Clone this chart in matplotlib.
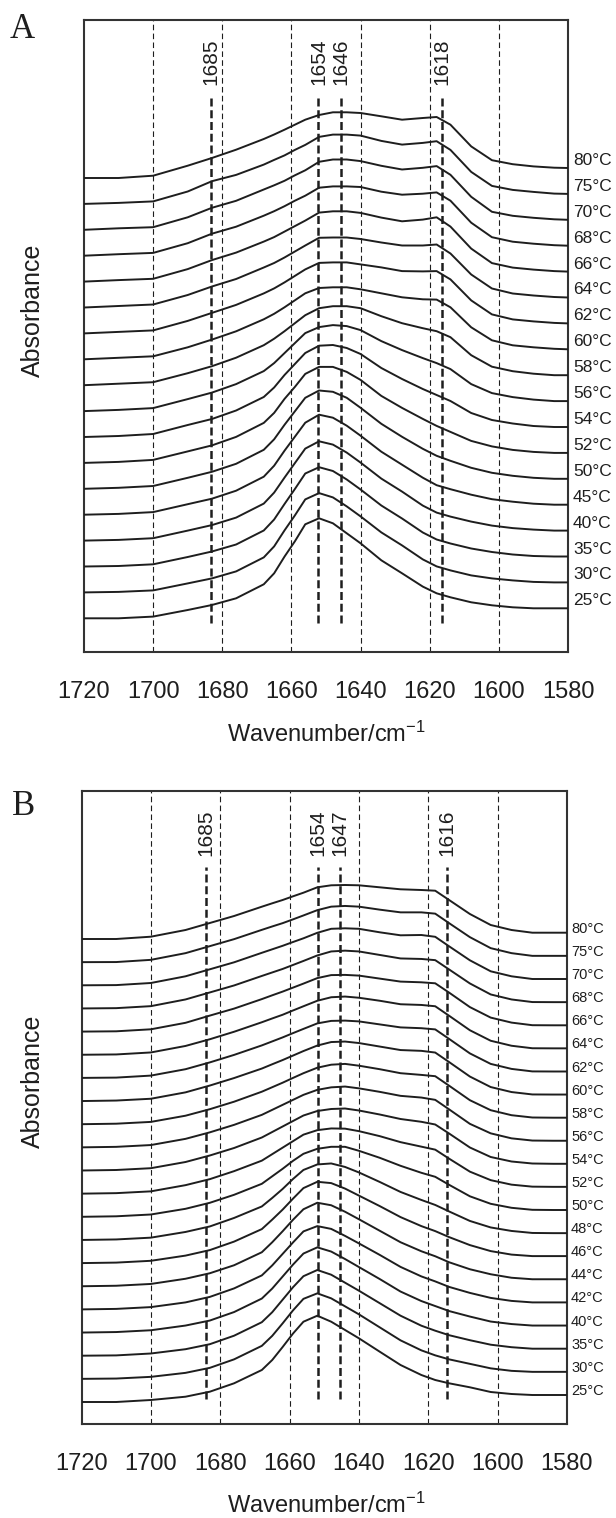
import matplotlib
matplotlib.use("Agg")
import matplotlib.pyplot as plt

plt.rcParams["font.family"] = ["Liberation Sans", "DejaVu Sans"]
plt.rcParams["mathtext.fontset"] = "custom"
plt.rcParams["mathtext.rm"] = "Liberation Sans"
plt.rcParams["mathtext.default"] = "regular"

# wavenumber grid the curves were read at (cm-1)
wavenumbers = [1720, 1710, 1700, 1690, 1683, 1676, 1668, 1665, 1662, 1659, 1656, 1652, 1648, 1644,
               1640, 1634, 1628, 1622, 1618, 1614, 1608, 1602, 1596, 1590, 1584, 1580]
xticks = [1720, 1700, 1680, 1660, 1640, 1620, 1600, 1580]
grid_lines = [1700, 1680, 1660, 1640, 1620, 1600]

# panel A, absorbance (a.u., stacking offset removed) per temperature
temps_a = [25, 30, 35, 40, 45, 50, 52, 54, 56, 58, 60, 62, 64, 66, 68, 70, 75, 80]
spectra_a = {
    25: [0, 0, 1.7, 8.3, 13.3, 20, 34, 45, 61.7, 77, 94, 100, 95, 85, 75, 58, 45, 31.7, 25, 21, 16, 13, 11, 10, 10, 10],
    30: [0, 0.5, 2, 9, 14, 21, 35, 46, 62, 77, 93, 99.3, 95, 86, 76, 60, 47, 33, 26, 22, 17, 14, 12, 10.5, 10, 10],
    35: [0, 0.5, 2.2, 9.5, 15, 22, 36, 47, 62.5, 77.5, 93, 99.3, 95.5, 87, 77, 61, 48, 34, 27, 23, 18, 14.5, 12, 10.5, 10, 10],
    40: [0, 0.7, 2.4, 10, 15.5, 23, 37, 48, 63, 77.5, 92, 99.3, 96, 88, 78, 62, 49, 35, 28, 24, 19, 15, 12.5, 11, 10, 10],
    45: [0, 0.8, 2.6, 10.5, 16, 24, 38, 49, 64, 78, 92, 100, 97, 89, 79, 63, 50, 37, 29.5, 25.5, 20, 15.5, 13, 11, 10, 10],
    50: [0, 1, 2.8, 11, 17, 25, 39, 49.5, 64, 77.5, 91, 98.3, 97, 91, 81, 65, 52, 40, 33, 28, 21, 16, 13, 11, 10, 10],
    52: [0, 1, 3, 11.5, 17.5, 26, 40, 50, 64, 76, 89, 96, 96, 91, 83, 67, 55, 44, 37, 31, 22, 16.5, 13, 11, 10, 10],
    54: [0, 1, 3, 12, 18, 26.5, 40, 49.5, 62, 73, 84, 91.3, 92, 89, 83, 69, 58, 48, 42, 36, 24, 17, 13.5, 11, 10, 10],
    56: [0, 1.2, 3, 12, 18.5, 27, 40, 48, 58, 68, 78, 84, 86, 85, 81, 70, 61, 53, 48, 42, 27, 18, 14, 11.5, 10, 10],
    58: [0, 1.5, 3, 12, 19, 27.5, 40, 46.5, 54, 62, 70, 77, 79, 79, 77, 69, 62, 57, 54, 48, 30, 18.5, 14, 11.5, 10, 10],
    60: [0, 1.5, 3, 12, 19.7, 28, 40, 45.5, 52, 59, 66, 71.3, 72, 72, 70, 66, 62, 60, 59.7, 52, 32, 19, 14, 12, 10.5, 10],
    62: [0, 1.5, 3, 12.5, 20.5, 28.5, 40, 45, 51, 57.5, 64, 70.5, 71, 71, 69, 66, 62.3, 62, 62.3, 54, 33, 19, 14, 12, 10.5, 10],
    64: [0, 1.5, 3, 12.5, 21, 28.5, 40, 44.5, 50, 56, 62, 69.7, 70, 70, 68.5, 65, 62, 62, 63, 54, 33, 19, 14, 12, 10.5, 10],
    66: [0, 1.5, 2.8, 12.5, 21.5, 29, 40, 44.5, 50, 55.5, 61, 69, 70.3, 70.3, 68.7, 64, 60.3, 62, 64.3, 55, 33, 18.5, 14, 12, 10.5, 10],
    68: [0, 1.5, 2.8, 12.5, 22, 29, 40, 44.5, 49.5, 55, 60, 68, 69.3, 69.3, 68.7, 64, 61, 62, 63.3, 55, 33, 18.5, 14, 12, 10.5, 10],
    70: [0, 1.5, 2.6, 12.5, 22, 29, 40.3, 44.5, 49, 54.5, 59.5, 68, 70.3, 70.3, 68.7, 64, 60.3, 62, 63.7, 55, 33, 18, 14, 12, 10.5, 10],
    75: [0, 1, 2.5, 12.4, 22.7, 29, 39.3, 44, 48.5, 54, 59, 67, 69.3, 69.3, 68.3, 63, 59.3, 61, 62.7, 54, 32, 18, 14, 12, 10.3, 10],
    80: [0, 0, 2.3, 12.3, 20, 28.3, 39, 43.5, 48.3, 53.3, 58.3, 63, 65.7, 65.7, 65, 61.7, 58.3, 60, 61, 53.3, 31.6, 17.8, 13.8, 11.6, 10.3, 10],
}
bands_a = [1683.3, 1652.2, 1645.7, 1616.4]
band_labels_a = ["1685", "1654", "1646", "1618"]

# panel B
temps_b = [25, 30, 35, 40, 42, 44, 46, 48, 50, 52, 54, 56, 58, 60, 62, 64, 66, 68, 70, 75, 80]
spectra_b = {
    25: [0, 0, 2, 5.3, 10.3, 18.7, 32, 42, 55, 68.5, 80.3, 86.3, 80.3, 72, 63.7, 50.3, 37, 27, 22, 18.7, 14.7, 10, 8, 7, 7, 7],
    30: [0, 0.3, 2, 6, 11, 19.5, 33, 43, 55.5, 68.5, 80, 85.5, 80.5, 72.5, 64.5, 51.5, 38.5, 28.5, 23.5, 19.5, 15, 10.5, 8, 7, 7, 7],
    35: [0, 0.3, 2.2, 6.5, 11.5, 20, 33.5, 43.5, 56, 68.5, 79.5, 85.7, 81, 73, 65, 52.5, 40, 30, 25, 20.5, 15.5, 11, 8.5, 7, 7, 7],
    40: [0, 0.5, 2.3, 7, 12, 20.5, 34, 44, 56, 68, 79, 85.2, 81, 73.5, 65.5, 53.5, 41, 31.5, 26.5, 21.5, 16, 11, 8.5, 7, 7, 7],
    42: [0, 0.5, 2.3, 7, 12.5, 21, 34, 44, 55.5, 67, 78, 83.3, 80.5, 73.5, 66, 54.5, 42.5, 33, 28, 22.5, 16.5, 11.5, 8.5, 7, 7, 7],
    44: [0, 0.5, 2.3, 7.5, 13, 21, 34, 44, 55, 66.5, 77, 83.5, 81, 74.5, 67, 55.5, 44, 35, 30, 24, 17, 12, 8.5, 7, 7, 7],
    46: [0, 0.5, 2.3, 7.5, 13, 21.5, 34, 43.5, 53.5, 64.5, 75, 81.3, 80, 74.5, 67.5, 57, 46, 37, 32, 26, 18, 12, 8.5, 7, 7, 7],
    48: [0, 0.5, 2.3, 8, 13.5, 22, 33.5, 42, 51, 61, 70, 75.5, 76.5, 73, 67.5, 58, 48, 40, 35, 28.5, 19, 12.5, 9, 7, 6.8, 6.8],
    50: [0, 0.5, 2.3, 8, 14, 22, 33, 40.5, 48, 56, 63, 68, 70, 70, 66, 59, 51, 44, 40, 32, 20.5, 13, 9, 7, 6.8, 6.8],
    52: [0, 0.5, 2.3, 8.5, 14.5, 22.5, 33, 39.5, 46, 52.5, 59, 63.5, 65.2, 65, 62.5, 57.5, 51.5, 47, 44, 35, 22, 13.5, 9, 7, 6.8, 6.8],
    54: [0, 0.5, 2.3, 8.5, 15, 22.5, 33, 38.5, 44, 49.5, 55, 59.5, 61.5, 62, 60, 56, 51.5, 48.7, 46, 37, 23, 13.5, 9, 7, 6.7, 6.7],
    56: [0, 0.5, 2.3, 8.5, 15, 22.5, 32.5, 37.5, 42.5, 47.5, 52.5, 57.5, 60, 60.8, 59, 55.5, 51.5, 49.8, 47.5, 38, 23.5, 14, 9, 6.8, 6.6, 6.6],
    58: [0, 0.5, 2.3, 8.5, 15, 22.5, 32.5, 37, 41.5, 46.3, 51, 56.5, 59.5, 60.3, 58.5, 55, 51, 49.3, 48, 38.5, 24, 14, 9, 6.7, 6.5, 6.5],
    60: [0, 0.5, 2.3, 8.7, 15.5, 23, 32.5, 36.8, 41, 45.5, 50, 55.5, 59, 59.5, 58, 54.5, 51, 50.2, 48.5, 39, 24.5, 14, 9, 6.6, 6.5, 6.5],
    62: [0, 0.3, 2.3, 8.7, 15.5, 23, 32.5, 36.5, 40.5, 44.8, 49, 54.5, 57, 57.3, 56.5, 53.5, 50.5, 49.7, 48.5, 39, 24.5, 14, 9, 6.5, 6.4, 6.4],
    64: [0, 0.3, 2.3, 8.8, 15.5, 23, 32.5, 36.3, 40, 44.3, 48.5, 54, 57.5, 58.2, 57, 54, 50.5, 49.8, 48.5, 39, 24.5, 14, 9, 6.5, 6.4, 6.4],
    66: [0, 0.3, 2.3, 8.8, 16, 23, 32.5, 36.3, 40, 44, 48, 53.5, 56.5, 56.7, 56, 53, 50, 49.3, 48.3, 39, 24.5, 14, 9, 6.4, 6.3, 6.3],
    68: [0, 0.3, 2.3, 9, 16, 23, 32.5, 36, 39.5, 43.5, 47.5, 53, 57, 57.8, 57, 53.5, 50, 49.5, 48.3, 39, 25, 14, 9, 6.4, 6.3, 6.3],
    70: [0, 0.2, 2.3, 9, 16, 23, 32.5, 36, 39.5, 43.3, 47, 52.5, 56.5, 57, 56.5, 53, 50, 50.3, 48.5, 39, 25, 14, 9, 6.3, 6.3, 6.3],
    75: [0, 0.1, 2.3, 9, 16, 23, 32.3, 35.7, 39, 42.8, 46.7, 52, 55.5, 56.2, 55.5, 52.5, 49.8, 49.8, 48.5, 39, 25, 14, 9, 6.3, 6.3, 6.3],
    80: [0, 0, 2.3, 9, 16, 23, 32.3, 35.7, 39, 42.7, 46.3, 51.7, 53.7, 54, 53.7, 51.7, 49.7, 49, 48.3, 39, 25, 14, 9, 6.3, 6.3, 6.3],
}
bands_b = [1684.1, 1651.9, 1645.5, 1614.6]
band_labels_b = ["1685", "1654", "1647", "1616"]

W, H = 616, 1518
INK = "#1e1e1e"


def draw_panel(box, temps, spectra, bands, band_labels, step, ylim, band_span,
               band_label_top, label_size, label_off, letter, letter_xy, ylab_y, xlab_y):
    # box is (left, top, right, bottom) in figure pixels; 1 y unit = 1 px
    left, top, right, bottom = box
    ax = fig.add_axes([left / W, 1 - bottom / H, (right - left) / W, (bottom - top) / H])
    ax.set_xlim(1720, 1580)
    ax.set_ylim(*ylim)

    for g in grid_lines:
        ax.axvline(g, color=INK, lw=0.8, dashes=(5, 3), zorder=1)
    for b, lab in zip(bands, band_labels):
        ax.plot([b, b], band_span, color=INK, lw=1.8, dashes=(3.2, 1.5), zorder=2)
        ax.text(b, band_label_top, lab, rotation=90, ha="center", va="top",
                fontsize=15, color=INK)

    for i, t in enumerate(temps):
        y = [v + i * step for v in spectra[t]]
        ax.plot(wavenumbers, y, color=INK, lw=1.4, zorder=3)
        ax.annotate(f"{t}°C", xy=(1580, y[-1]), xytext=label_off,
                    textcoords="offset pixels", ha="left", va="baseline",
                    fontsize=label_size, color=INK, annotation_clip=False)

    ax.set_yticks([])
    ax.set_xticks(xticks)
    ax.tick_params(axis="x", length=0, pad=21, labelsize=17, labelcolor=INK)
    for s in ax.spines.values():
        s.set_linewidth(1.5)
        s.set_color("#333333")

    fig.text(letter_xy[0] / W, 1 - letter_xy[1] / H, letter, family="Liberation Serif",
             fontsize=25, ha="left", va="baseline", color=INK)
    fig.text(44.7 / W, 1 - ylab_y / H, "Absorbance", rotation=90, ha="right",
             va="center", fontsize=18, color=INK)
    fig.text(326 / W, 1 - xlab_y / H, "Wavenumber/cm$^{-1}$", ha="center",
             va="baseline", fontsize=17, color=INK)
    return ax


fig = plt.figure(figsize=(W / 100, H / 100), dpi=100)

# panel A: box 84..568 x 20..652 px, 25 °C baseline at 618 px
draw_panel((84, 20, 568, 652), temps_a, spectra_a, bands_a, band_labels_a,
           step=25.9, ylim=(-33.7, 598.3), band_span=(-5, 521.6), band_label_top=580,
           label_size=12.5, label_off=(5, 3), letter="A",
           letter_xy=(10, 38), ylab_y=310, xlab_y=742)

# panel B: box 81.5..567 x 791..1424 px, 25 °C baseline at 1402 px
draw_panel((81.5, 791, 567, 1424), temps_b, spectra_b, bands_b, band_labels_b,
           step=23.15, ylim=(-22, 611), band_span=(3, 535.3), band_label_top=593,
           label_size=10.5, label_off=(4, 0), letter="B",
           letter_xy=(12, 815), ylab_y=1081, xlab_y=1513)

fig.savefig("out.png", dpi=100)
